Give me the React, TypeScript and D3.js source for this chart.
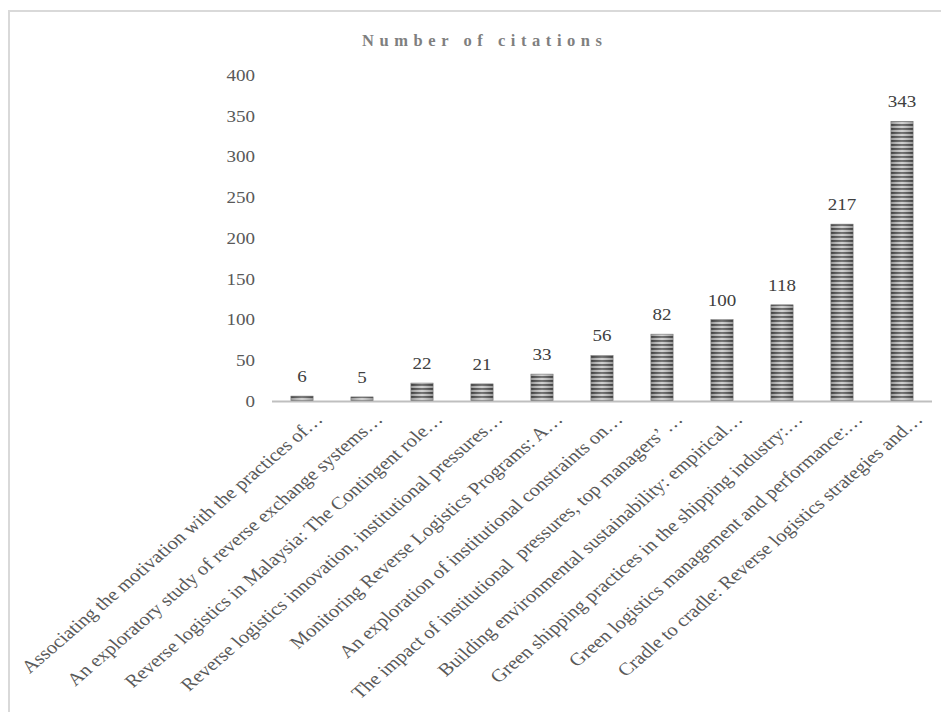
import React from "react";
import * as d3 from "d3";

const categories = [
  "Associating the motivation with the practices of…",
  "An exploratory study of reverse exchange systems…",
  "Reverse logistics in Malaysia: The Contingent role…",
  "Reverse logistics innovation, institutional pressures…",
  "Monitoring Reverse Logistics Programs: A…",
  "An exploration of institutional constraints on…",
  "The impact of institutional\u00a0 pressures, top managers’ …",
  "Building environmental sustainability: empirical…",
  "Green shipping practices in the shipping industry:…",
  "Green logistics management and performance:…",
  "Cradle to cradle: Reverse logistics strategies and…",
];
const citations = [6, 5, 22, 21, 33, 56, 82, 100, 118, 217, 343];
const yTicks = [0, 50, 100, 150, 200, 250, 300, 350, 400];
const title = "Number of citations";

const W = 941;
const H = 712;
const plot = { left: 272, right: 932, top: 75, bottom: 401 };
const FONT = "'Times New Roman', 'Liberation Serif', serif";
const SX = 1.12; // horizontal stretch of the reference picture
const SXL = 1.16;

export default function App() {
  const x = d3
    .scaleBand<string>()
    .domain(categories)
    .range([plot.left, plot.right])
    .paddingInner(0.63)
    .paddingOuter(0.315);
  const y = d3.scaleLinear().domain([0, 400]).range([plot.bottom, plot.top]);
  const band = (plot.right - plot.left) / categories.length;

  return (
    <svg
      width={W}
      height={H}
      style={{ position: "absolute", left: 0, top: 0, display: "block", background: "#fff" }}
    >
      <defs>
        <pattern id="stripes" width="8" height="4" patternUnits="userSpaceOnUse">
          <rect x="0" y="0" width="8" height="4" fill="#c8c8c8" />
          <rect x="0" y="0" width="8" height="1.9" fill="#505050" />
        </pattern>
        <linearGradient id="shine" x1="0" x2="1" y1="0" y2="0">
          <stop offset="0" stopColor="#000" stopOpacity="0.25" />
          <stop offset="0.5" stopColor="#fff" stopOpacity="0.18" />
          <stop offset="1" stopColor="#000" stopOpacity="0.25" />
        </linearGradient>
      </defs>
      {/* chart frame */}
      <path d={`M9,${H} V11 H${W}`} fill="none" stroke="#d9d9d9" strokeWidth={2} />

      <text
        x={362}
        y={46}
        textLength={240}
        lengthAdjust="spacing"
        fontFamily={FONT}
        fontSize={16.5}
        fontWeight="bold"
        fill="#7f7f7f"
      >
        {title}
      </text>

      {yTicks.map((t) => (
        <text
          key={t}
          transform={`translate(255,${y(t)}) scale(${SX},1)`}
          dy="0.35em"
          textAnchor="end"
          fontFamily={FONT}
          fontSize={17}
          fill="#595959"
        >
          {t}
        </text>
      ))}

      {categories.map((c, i) => {
        const bx = x(c)!;
        const bw = x.bandwidth();
        const by = y(citations[i]);
        const bh = plot.bottom - by;
        return (
          <g key={c}>
            <rect x={bx} y={by} width={bw} height={bh} fill="url(#stripes)" />
            <rect x={bx} y={by} width={bw} height={bh} fill="url(#shine)" />
            <rect
              x={bx}
              y={by}
              width={bw}
              height={bh}
              fill="none"
              stroke="#7a7a7a"
              strokeWidth={0.6}
            />
            <text
              transform={`translate(${bx + bw / 2},${by - 14}) scale(${SX},1)`}
              textAnchor="middle"
              fontFamily={FONT}
              fontSize={17}
              fill="#404040"
            >
              {citations[i]}
            </text>
          </g>
        );
      })}

      <line
        x1={plot.left}
        x2={plot.right}
        y1={plot.bottom + 0.5}
        y2={plot.bottom + 0.5}
        stroke="#bfbfbf"
        strokeWidth={2}
      />

      {categories.map((c, i) => {
        const cx = plot.left + band * (i + 0.5);
        const ax = cx + 11;
        const ay = 411;
        return (
          <text
            key={"l" + i}
            transform={`translate(${ax},${ay}) scale(${SXL},1) rotate(-45)`}
            textAnchor="end"
            dy="0.75em"
            fontFamily={FONT}
            fontSize={17.8}
            fill="#595959"
            style={{ whiteSpace: "pre" }}
          >
            {c}
          </text>
        );
      })}
    </svg>
  );
}
